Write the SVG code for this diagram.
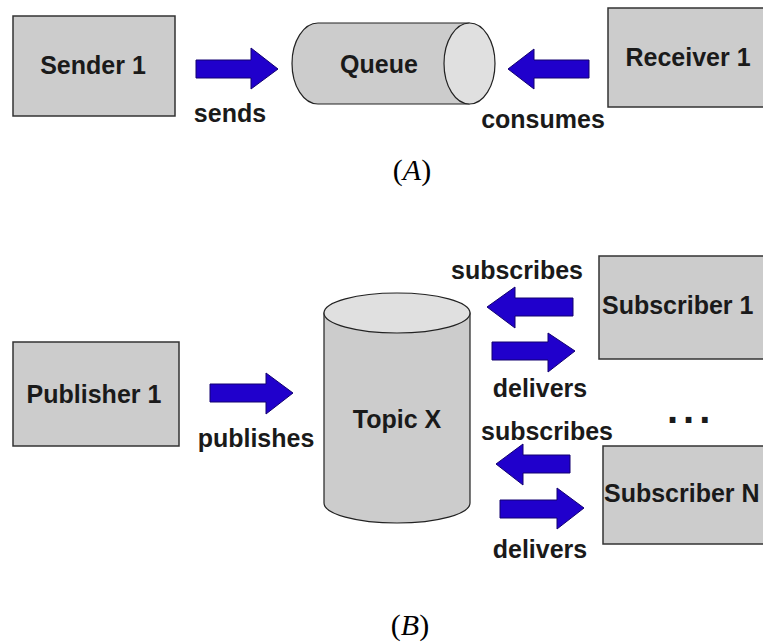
<svg xmlns="http://www.w3.org/2000/svg" width="763" height="643" viewBox="0 0 763 643">
<style>
.box{fill:#cccccc;stroke:#333333;stroke-width:1.5}
.cyl{fill:#cccccc;stroke:#222222;stroke-width:1.2}
.face{fill:#e0e0e0;stroke:#222222;stroke-width:1.2}
.arr{fill:#2000cc;stroke:#120070;stroke-width:1}
.t{font-family:"Liberation Sans",Arial,sans-serif;font-weight:bold;font-size:25px;fill:#1a1a1a}
.m{text-anchor:middle}
.cap{font-family:"Liberation Serif","Times New Roman",serif;font-size:30px;fill:#000;text-anchor:middle}
</style>
<rect width="763" height="643" fill="#ffffff"/>
<g id="sender1"><rect class="box" x="13" y="16" width="162" height="100"/><text class="t m" x="93" y="74">Sender 1</text></g>
<g id="queue">
<path class="cyl" d="M318,23 L469,23 L469,104 L318,104 A26,40.5 0 0 1 318,23 Z"/>
<ellipse class="face" cx="469.5" cy="63.5" rx="25.5" ry="40.5"/>
<text class="t m" x="379" y="73">Queue</text>
</g>
<g id="receiver1"><rect class="box" x="608" y="8" width="160" height="99"/><text class="t m" x="688" y="66">Receiver 1</text></g>
<g id="publisher1"><rect class="box" x="13" y="342" width="166" height="104"/><text class="t m" x="94" y="403">Publisher 1</text></g>
<g id="topicx">
<path class="cyl" d="M324,313 L324,503 A73,20 0 0 0 470,503 L470,313 Z"/>
<ellipse class="face" cx="397" cy="313" rx="73" ry="20"/>
<text class="t m" x="397" y="428">Topic X</text>
</g>
<g id="subscriber1"><rect class="box" x="599" y="256" width="170" height="103"/><text class="t" x="602" y="314">Subscriber 1</text></g>
<g id="subscriberN"><rect class="box" x="603" y="446" width="170" height="98"/><text class="t" x="604" y="502">Subscriber N</text></g>
<g id="ellipsis"><text class="t" x="667" y="423" style="font-size:40px;letter-spacing:5px">...</text></g>
<g id="connectors">
<polygon class="arr" points="196,60 251,60 251,48 278,69 251,89 251,78 196,78"/>
<text class="t m" x="230" y="122">sends</text>
<polygon class="arr" points="589,60 534,60 534,49 508,69 534,89 534,78 589,78"/>
<text class="t m" x="543" y="128">consumes</text>
<polygon class="arr" points="210,384 266,384 266,373 293,393 266,414 266,402 210,402"/>
<text class="t m" x="256" y="447">publishes</text>
<polygon class="arr" points="573,298 515,298 515,287 487,307 515,328 515,316 573,316"/>
<text class="t m" x="517" y="279">subscribes</text>
<polygon class="arr" points="492,342 548,342 548,333 575,351 548,372 548,360 492,360"/>
<text class="t m" x="540" y="397">delivers</text>
<polygon class="arr" points="570,455 523,455 523,444 496,464 523,485 523,473 570,473"/>
<text class="t m" x="547" y="440">subscribes</text>
<polygon class="arr" points="500,500 557,500 557,488 584,508 557,529 557,518 500,518"/>
<text class="t m" x="540" y="558">delivers</text>
</g>
<text class="cap" x="412" y="180">(<tspan font-style="italic">A</tspan>)</text>
<text class="cap" x="410" y="635">(<tspan font-style="italic">B</tspan>)</text>
</svg>
